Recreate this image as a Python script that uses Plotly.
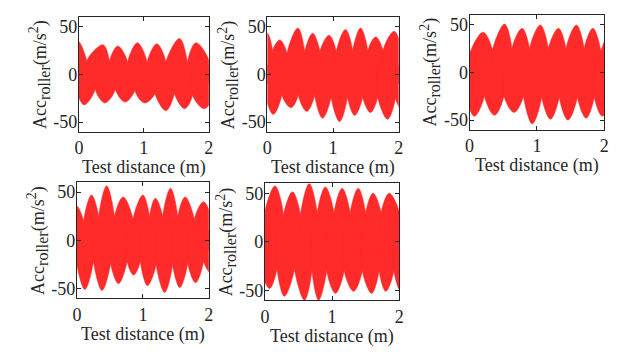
import plotly.graph_objects as go

# envelope of the roller acceleration (m/s^2) vs test distance (m).
# each list alternates valley / peak / valley ... along the upper (or lower) edge
p1_up_x = [-0.15, -0.02, 0.12, 0.37, 0.47, 0.60, 0.75, 0.90, 1.05, 1.20, 1.34, 1.55, 1.67, 1.80, 2.00]
p1_up_y = [14, 35, 14, 31, 14, 29.5, 13, 33, 13, 32, 13, 37.5, 13, 33, 15]
p1_lo_x = [-0.04, 0.08, 0.25, 0.40, 0.56, 0.71, 0.86, 1.01, 1.17, 1.34, 1.47, 1.63, 1.75, 1.93, 2.10]
p1_lo_y = [-16, -32, -16, -30, -16, -29, -17, -30, -20, -38, -20, -36, -22, -36, -18]

p2_up_x = [-0.08, 0.00, 0.08, 0.19, 0.30, 0.465, 0.57, 0.69, 0.80, 0.94, 1.05, 1.19, 1.30, 1.42, 1.53, 1.65, 1.76, 1.93, 2.05]
p2_up_y = [25, 43, 25, 36, 22, 48.5, 24, 43, 24, 41, 24, 47, 25, 48.5, 25, 39, 25, 45, 25]
p2_lo_x = [-0.03, 0.09, 0.22, 0.36, 0.47, 0.60, 0.72, 0.84, 0.97, 1.10, 1.22, 1.33, 1.45, 1.57, 1.68, 1.83, 1.95, 2.08, 2.20]
p2_lo_y = [-22, -42, -22, -35, -22, -39, -22, -46, -24, -49.5, -24, -43, -24, -40, -24, -47, -25, -40, -22]

p3_up_x = [-0.02, 0.20, 0.34, 0.52, 0.63, 0.78, 0.89, 1.05, 1.17, 1.32, 1.43, 1.585, 1.70, 1.83, 1.95, 2.08, 2.20]
p3_up_y = [15, 42, 23, 50.6, 25, 46, 25, 49.6, 25, 46, 25, 49.6, 25, 46, 22, 40, 20]
p3_lo_x = [-0.05, 0.07, 0.22, 0.37, 0.51, 0.66, 0.80, 0.93, 1.07, 1.20, 1.33, 1.46, 1.60, 1.73, 1.85, 1.97, 2.10]
p3_lo_y = [-25, -46, -25, -45, -25, -42, -25, -54, -26, -49, -26, -50, -26, -48, -26, -46, -25]

p4_up_x = [-0.10, -0.01, 0.10, 0.22, 0.33, 0.45, 0.57, 0.70, 0.85, 1.00, 1.10, 1.19, 1.30, 1.42, 1.53, 1.64, 1.78, 1.92, 2.05]
p4_up_y = [20, 36, 20, 47, 25, 56.6, 25, 45, 22, 47, 25, 43.6, 25, 54, 25, 45, 22, 40, 20]
p4_lo_x = [-0.02, 0.12, 0.25, 0.38, 0.51, 0.63, 0.76, 0.86, 0.96, 1.07, 1.20, 1.33, 1.45, 1.56, 1.68, 1.80, 1.92, 2.05, 2.20]
p4_lo_y = [-18, -51, -22, -52, -24, -45, -22, -36, -22, -47, -25, -54, -25, -49, -24, -44, -22, -35, -20]

p5_up_x = [-0.02, 0.15, 0.28, 0.41, 0.53, 0.66, 0.78, 0.90, 1.03, 1.15, 1.27, 1.39, 1.50, 1.61, 1.73, 1.85, 2.00]
p5_up_y = [25, 57.5, 28, 51.5, 28, 60, 30, 56.5, 30, 55, 30, 55, 30, 50, 30, 50, 31]
p5_lo_x = [-0.05, 0.07, 0.18, 0.29, 0.44, 0.59, 0.70, 0.80, 0.92, 1.05, 1.18, 1.32, 1.45, 1.59, 1.70, 1.80, 1.92, 2.03, 2.15]
p5_lo_y = [-30, -48, -28, -56, -28, -60, -30, -60, -30, -53, -30, -51, -30, -53, -30, -51, -30, -52, -30]

panels = [
    (p1_up_x, p1_up_y, p1_lo_x, p1_lo_y),
    (p2_up_x, p2_up_y, p2_lo_x, p2_lo_y),
    (p3_up_x, p3_up_y, p3_lo_x, p3_lo_y),
    (p4_up_x, p4_up_y, p4_lo_x, p4_lo_y),
    (p5_up_x, p5_up_y, p5_lo_x, p5_lo_y),
]

# page pixel boxes of the five axes: left, right, top, bottom
boxes = [
    (75, 207, 17, 132),
    (266.5, 400, 17, 132),
    (472, 609, 15, 130),
    (73, 207, 183, 299),
    (264, 400.5, 184, 301),
]

# the page body keeps its 8px margin, so the figure itself is a bit smaller
OFF = 8
W, H = 632 - OFF, 357 - OFF


def px_x(v):
    return (v - OFF) / W


def px_y(v):
    return 1 - (v - OFF) / H


FONT = "Liberation Serif"
INK = "#262626"
RED = "#ff2a2a"
BASE = 10  # lobes reach a little past zero so neighbouring fills overlap

fig = go.Figure()
layout = {}
annotations = []

for i, ((ux, uy, lx, ly), (l, r, t, b)) in enumerate(zip(panels, boxes)):
    n = "" if i == 0 else str(i + 1)
    # one rounded lobe per valley-peak-valley triple
    for xs, ys, base in ((ux, uy, -BASE), (lx, ly, BASE)):
        for k in range(0, len(xs) - 2, 2):
            fig.add_trace(go.Scatter(
                x=[xs[k]] + xs[k:k + 3] + [xs[k + 2]],
                y=[base] + ys[k:k + 3] + [base],
                xaxis="x" + n, yaxis="y" + n,
                mode="lines", fill="toself", fillcolor=RED,
                line=dict(color=RED, width=0.5, shape="spline", smoothing=1.0),
                hoverinfo="skip", showlegend=False,
            ))
    common = dict(
        ticks="inside", ticklen=4, tickcolor=INK,
        showline=True, mirror="ticks", linecolor=INK, linewidth=1,
        showgrid=False, zeroline=False,
        tickfont=dict(family=FONT, size=18, color=INK),
    )
    layout["xaxis" + n] = dict(
        common, domain=[px_x(l), px_x(r)], anchor="y" + n,
        range=[0, 2], tickvals=[0, 1, 2],
    )
    layout["yaxis" + n] = dict(
        common, domain=[px_y(b), px_y(t)], anchor="x" + n,
        range=[-60, 60], tickvals=[-50, 0, 50], ticktext=["-50", "0", "50"],
        ticklabelstandoff=-3,
    )
    annotations.append(dict(
        text="Test distance (m)", xref="paper", yref="paper",
        x=px_x((l + r) / 2), y=px_y(b + 36),
        xanchor="center", yanchor="middle", showarrow=False,
        font=dict(family=FONT, size=18, color=INK),
    ))
    annotations.append(dict(
        text="Acc<sub><span style='font-size:16px'>roller</span></sub>"
             "(m/s<sup><span style='font-size:14px'>2</span></sup>)",
        xref="paper", yref="paper",
        x=px_x(l - 40), y=px_y((t + b) / 2), textangle=-90,
        xanchor="center", yanchor="middle", showarrow=False,
        font=dict(family=FONT, size=18, color=INK),
    ))

fig.update_layout(
    **layout,
    annotations=annotations,
    width=W, height=H,
    margin=dict(l=0, r=0, t=0, b=0),
    paper_bgcolor="white",
    plot_bgcolor="white",
    showlegend=False,
)

fig.write_html("out.html")
